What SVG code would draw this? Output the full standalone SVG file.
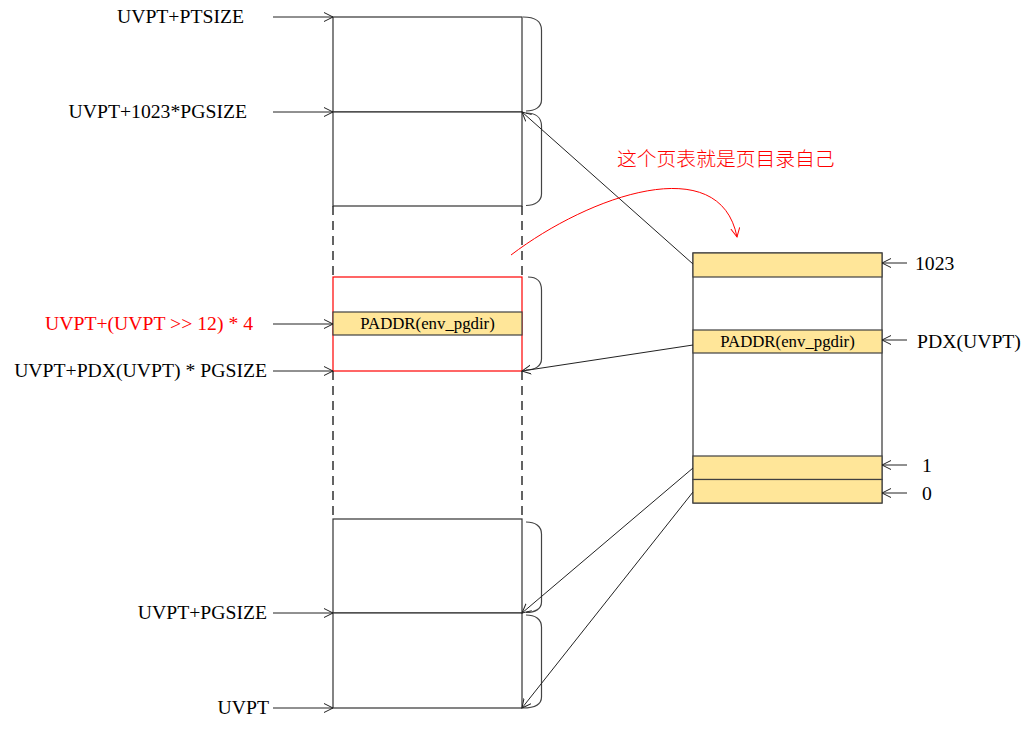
<svg xmlns="http://www.w3.org/2000/svg" width="1034" height="729" viewBox="0 0 1034 729">
<defs>
<marker id="arr" markerUnits="userSpaceOnUse" markerWidth="12" markerHeight="12" refX="9" refY="5" orient="auto">
<path d="M0,0.5 L9,5 L0,9.5" fill="none" stroke="#222" stroke-width="1"/>
</marker>
<marker id="arrRed" markerUnits="userSpaceOnUse" markerWidth="12" markerHeight="12" refX="9" refY="5" orient="auto">
<path d="M0,0.5 L9,5 L0,9.5" fill="none" stroke="#ff0000" stroke-width="1"/>
</marker>
<style>
.lbl{font-family:"Liberation Serif","Times New Roman",serif;font-size:19.7px;fill:#000}
.red{fill:#ff0000}
.cell{font-family:"Liberation Serif","Times New Roman",serif;font-size:16.8px;fill:#000}
.box{fill:#fff;stroke:#333;stroke-width:1.2}
.ybox{fill:#FFE699;stroke:#404040;stroke-width:1.2}
.dash{stroke:#222;stroke-width:1.4;stroke-dasharray:9 6;fill:none}
.brace{fill:none;stroke:#444;stroke-width:1.2}
.conn{stroke:#222;stroke-width:1;fill:none;marker-end:url(#arr)}
</style>
</defs>
<rect width="1034" height="729" fill="#fff"/>

<g id="left-column">
<rect class="box" x="333" y="17" width="189" height="95"/>
<rect class="box" x="333" y="112" width="189" height="94"/>
<line class="dash" x1="333" y1="206" x2="333" y2="277"/>
<line class="dash" x1="522" y1="206" x2="522" y2="277"/>
<rect x="333" y="277" width="189" height="94" fill="#fff" stroke="#ff0000" stroke-width="1.2"/>
<rect class="ybox" x="333" y="312" width="189" height="23"/>
<text class="cell" x="427.5" y="329" text-anchor="middle">PADDR(env_pgdir)</text>
<line class="dash" x1="333" y1="371" x2="333" y2="519"/>
<line class="dash" x1="522" y1="371" x2="522" y2="519"/>
<rect class="box" x="333" y="519" width="189" height="94"/>
<rect class="box" x="333" y="613" width="189" height="95"/>
</g>

<g id="braces">
<path class="brace" d="M523,17 C535,17 541.5,21 541.5,30 L541.5,100 C541.5,107 535,111 526,111"/>
<path class="brace" d="M526,113 C535,113 541.5,117 541.5,126 L541.5,194 C541.5,201 535,205.5 526,205.5"/>
<path class="brace" d="M528,277 C536,277 541.5,281 541.5,290 L541.5,359 C541.5,366 535,370 526,370"/>
<path class="brace" d="M526,522 C535,522 541.5,526 541.5,534 L541.5,602 C541.5,609 535,612.5 526,612.5"/>
<path class="brace" d="M526,615 C535,615 541.5,619 541.5,627 L541.5,697 C541.5,704 535,708 523,708"/>
</g>

<g id="left-labels">
<text class="lbl" x="244" y="23" text-anchor="end">UVPT+PTSIZE</text>
<text class="lbl" x="247" y="118" text-anchor="end">UVPT+1023*PGSIZE</text>
<text class="lbl red" x="253" y="330" text-anchor="end">UVPT+(UVPT &gt;&gt; 12) * 4</text>
<text class="lbl" x="267" y="377" text-anchor="end">UVPT+PDX(UVPT) * PGSIZE</text>
<text class="lbl" x="267" y="619" text-anchor="end">UVPT+PGSIZE</text>
<text class="lbl" x="269" y="714" text-anchor="end">UVPT</text>
</g>

<g id="page-directory">
<rect class="box" x="693" y="253" width="189" height="250" stroke="#555"/>
<rect class="ybox" x="693" y="253" width="189" height="24"/>
<rect class="ybox" x="693" y="330" width="189" height="23"/>
<text class="cell" x="787.5" y="347" text-anchor="middle">PADDR(env_pgdir)</text>
<rect class="ybox" x="693" y="456" width="189" height="23.5"/>
<rect class="ybox" x="693" y="479.5" width="189" height="23.5"/>
</g>

<g id="right-labels">
<text class="lbl" x="915" y="270">1023</text>
<text class="lbl" x="917" y="348">PDX(UVPT)</text>
<text class="lbl" x="922" y="472">1</text>
<text class="lbl" x="922" y="500">0</text>
</g>

<g id="note">
<text x="617" y="166" font-family="'Noto Sans CJK SC','Noto Sans CJK JP',sans-serif" font-size="19.8px" fill="#ff0000" font-weight="300">这个页表就是页目录自己</text>
</g>

<g id="connectors">
<line class="conn" x1="273" y1="17" x2="333" y2="17"/>
<line class="conn" x1="273" y1="112" x2="333" y2="112"/>
<line class="conn" x1="273" y1="324" x2="333" y2="324"/>
<line class="conn" x1="273" y1="371" x2="333" y2="371"/>
<line class="conn" x1="273" y1="613" x2="333" y2="613"/>
<line class="conn" x1="273" y1="708" x2="333" y2="708"/>
<line class="conn" x1="907" y1="263" x2="882" y2="263"/>
<line class="conn" x1="907" y1="340" x2="882" y2="340"/>
<line class="conn" x1="907" y1="465" x2="882" y2="465"/>
<line class="conn" x1="907" y1="493" x2="882" y2="493"/>
<line class="conn" x1="693" y1="264" x2="522" y2="112"/>
<line class="conn" x1="693" y1="345" x2="522" y2="371"/>
<line class="conn" x1="693" y1="468" x2="522" y2="613"/>
<line class="conn" x1="693" y1="492" x2="522" y2="708"/>
<path d="M511,255 C590,195 720,150 737,237" fill="none" stroke="#ff0000" stroke-width="1" marker-end="url(#arrRed)"/>
</g>
</svg>
